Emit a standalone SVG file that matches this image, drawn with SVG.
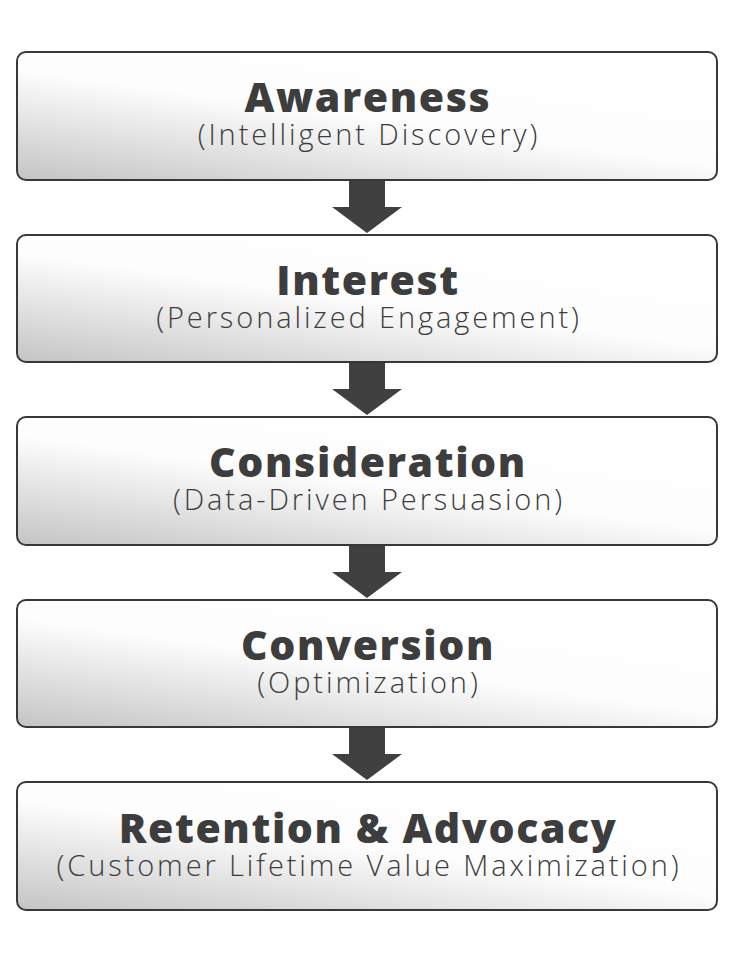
<svg xmlns="http://www.w3.org/2000/svg" width="736" height="970" viewBox="0 0 736 970">
<defs>
<linearGradient id="g" x1="0" y1="1" x2="0.75" y2="0">
<stop offset="0" stop-color="#c4c4c4"/>
<stop offset="0.55" stop-color="#fdfdfd"/>
<stop offset="1" stop-color="#ffffff"/>
</linearGradient>
<style>
.box{fill:url(#g);stroke:#383838;stroke-width:2}
.t{font-family:"Open Sans","Noto Sans",sans-serif;font-weight:800;font-size:41px;letter-spacing:1.6px;fill:#3d3d3d;text-anchor:middle}
.s{font-family:"Open Sans","Noto Sans",sans-serif;font-weight:350;font-size:29px;letter-spacing:2.9px;fill:#3d3d3d;text-anchor:middle}
.arr{fill:#404040}
</style>
</defs>
<rect width="736" height="970" fill="#ffffff"/>
<g id="connectors">
<path class="arr" d="M349,180 H385 V207 H402 L367,233 L332,207 H349 Z"/>
<path class="arr" d="M349,362 H385 V389 H402 L367,415 L332,389 H349 Z"/>
<path class="arr" d="M349,545 H385 V572 H402 L367,598 L332,572 H349 Z"/>
<path class="arr" d="M349,727 H385 V754 H402 L367,780 L332,754 H349 Z"/>
</g>
<g id="awareness">
<rect class="box" x="17" y="52" width="700" height="128" rx="9"/>
<text class="t" x="368" y="112">Awareness</text>
<text class="s" x="369" y="145">(Intelligent Discovery)</text>
</g>
<g id="interest">
<rect class="box" x="17" y="235" width="700" height="127" rx="9"/>
<text class="t" x="368" y="295">Interest</text>
<text class="s" x="369" y="328">(Personalized Engagement)</text>
</g>
<g id="consideration">
<rect class="box" x="17" y="417" width="700" height="128" rx="9"/>
<text class="t" x="368" y="477">Consideration</text>
<text class="s" x="369" y="510">(Data-Driven Persuasion)</text>
</g>
<g id="conversion">
<rect class="box" x="17" y="600" width="700" height="127" rx="9"/>
<text class="t" x="368" y="660">Conversion</text>
<text class="s" x="369" y="693">(Optimization)</text>
</g>
<g id="retention">
<rect class="box" x="17" y="782" width="700" height="128" rx="9"/>
<text class="t" x="368" y="843">Retention &amp; Advocacy</text>
<text class="s" x="369" y="876">(Customer Lifetime Value Maximization)</text>
</g>
</svg>
